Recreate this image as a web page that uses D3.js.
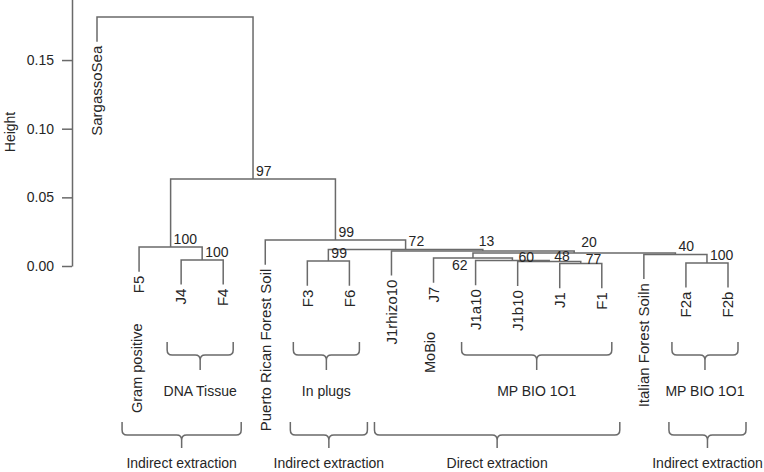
<!DOCTYPE html>
<html>
<head>
<meta charset="utf-8">
<script src="https://cdn.jsdelivr.net/npm/d3@7"></script>
<style>
  body { margin: 0; background: #fff; }
  svg { font-family: "Liberation Sans", Arial, Helvetica, sans-serif; }
</style>
</head>
<body>
<div id="chart"></div>
<script>
// leaves, left to right
const leaves = ["SargassoSea", "F5", "J4", "F4", "Puerto Rican Forest Soil", "F3", "F6",
    "J1rhizo10", "J7", "J1a10", "J1b10", "J1", "F1", "Italian Forest Soiln", "F2a", "F2b"];

// merges: a string is a leaf, a number is an earlier merge row
const merges = [
    ["J4", "F4"],                      // 0
    ["F5", 0],                         // 1
    ["F3", "F6"],                      // 2
    ["J1", "F1"],                      // 3
    ["J1b10", 3],                      // 4
    ["J1a10", 4],                      // 5
    ["J7", 5],                         // 6
    ["F2a", "F2b"],                    // 7
    ["Italian Forest Soiln", 7],       // 8
    [6, 8],                            // 9
    ["J1rhizo10", 9],                  // 10
    [2, 10],                           // 11
    ["Puerto Rican Forest Soil", 11],  // 12
    [1, 12],                           // 13
    ["SargassoSea", 13]                // 14 root
];
const mergeHeights = [0.0044, 0.0138, 0.0036, 0.0018, 0.0033, 0.0040, 0.0058, 0.0022,
    0.0084, 0.0094, 0.0110, 0.0121, 0.0189, 0.0634, 0.1813];
const bootstrap = [100, 100, 99, 77, 48, 60, 62, 100, 40, 20, 13, 72, 99, 97, null];

// group brackets (first leaf, last leaf, text)
const innerGroups = [["J4", "F4", "DNA Tissue"], ["F3", "F6", "In plugs"],
    ["J1a10", "F1", "MP BIO 1O1"], ["F2a", "F2b", "MP BIO 1O1"]];
const outerGroups = [["F5", "F4", "Indirect extraction"], ["F3", "F6", "Indirect extraction"],
    ["J1rhizo10", "F1", "Direct extraction"], ["F2a", "F2b", "Indirect extraction"]];

const yTicks = [0, 0.05, 0.10, 0.15];

const width = 764, height = 472;
const lineColor = "#6a6a6a", textColor = "#262626";

const svg = d3.select("#chart").append("svg")
    .attr("width", width)
    .attr("height", height);

const y = d3.scaleLinear().domain([0, 0.2]).range([266, 266 - 0.2 * 1373]);
const x = d3.scalePoint().domain(leaves).range([97, 728]);

// hang like R plot.hclust
const hang = 0.1 * (d3.max(mergeHeights) - d3.min(mergeHeights));

// node x positions and parent heights of leaves
const nodeX = [];
const leafTop = {};
merges.forEach((m, i) => {
    const cx = m.map(c => typeof c === "number" ? nodeX[c] : x(c));
    nodeX[i] = (cx[0] + cx[1]) / 2;
    m.forEach(c => { if (typeof c !== "number") leafTop[c] = mergeHeights[i]; });
});
const leafEnd = name => y(leafTop[name] - hang);
const childX = c => typeof c === "number" ? nodeX[c] : x(c);
const childY = c => typeof c === "number" ? y(mergeHeights[c]) : leafEnd(c);

// dendrogram branches
svg.append("g").selectAll("path")
    .data(merges)
    .join("path")
    .attr("d", (m, i) => {
        const yy = y(mergeHeights[i]);
        return "M" + childX(m[0]) + "," + childY(m[0]) + "V" + yy +
            "H" + childX(m[1]) + "V" + childY(m[1]);
    })
    .attr("fill", "none")
    .attr("stroke", lineColor)
    .attr("stroke-width", 1.5);

// bootstrap values; labels in the crowded cluster were nudged by hand in the figure
const nudge = { 3: [2, 3], 4: [2, 3], 5: [3, 4], 6: [-24, 15], 9: [4, -3], 10: [-7, -2] };
svg.append("g").selectAll("text")
    .data(merges.map((m, i) => i).filter(i => bootstrap[i] != null))
    .join("text")
    .attr("x", i => nodeX[i] + 3 + (nudge[i] ? nudge[i][0] : 0))
    .attr("y", i => y(mergeHeights[i]) - 3 + (nudge[i] ? nudge[i][1] : 0))
    .attr("font-size", 14)
    .attr("fill", textColor)
    .text(i => bootstrap[i]);

// leaf labels
svg.append("g").selectAll("text")
    .data(leaves)
    .join("text")
    .attr("transform", d => "translate(" + x(d) + "," + (leafEnd(d) + 4) + ") rotate(-90)")
    .attr("text-anchor", "end")
    .attr("dy", "0.35em")
    .attr("font-size", 15)
    .attr("fill", textColor)
    .text(d => d);

// extra rotated notes
const notes = [["F5", -2, 413, "Gram positive"], ["J7", -4, 373, "MoBio"]];
svg.append("g").selectAll("text")
    .data(notes)
    .join("text")
    .attr("transform", d => "translate(" + (x(d[0]) + d[1]) + "," + d[2] + ") rotate(-90)")
    .attr("text-anchor", "start")
    .attr("dy", "0.35em")
    .attr("font-size", 14.5)
    .attr("fill", textColor)
    .text(d => d[3]);

// curly brackets
function bracket(x1, x2, yt, ym, yb) {
    const cx = (x1 + x2) / 2, r = 5;
    return "M" + x1 + "," + yt + "V" + (ym - r) + "Q" + x1 + "," + ym + " " + (x1 + r) + "," + ym +
        "H" + (cx - r) + "Q" + cx + "," + ym + " " + cx + "," + (ym + r) + "V" + yb +
        "M" + x2 + "," + yt + "V" + (ym - r) + "Q" + x2 + "," + ym + " " + (x2 - r) + "," + ym +
        "H" + (cx + r) + "Q" + cx + "," + ym + " " + cx + "," + (ym + r);
}

function drawGroups(groups, padL, padR, yt, ym, yb, yText) {
    const g = svg.append("g");
    g.selectAll("path")
        .data(groups)
        .join("path")
        .attr("d", d => bracket(x(d[0]) - padL, x(d[1]) + padR, yt, ym, yb))
        .attr("fill", "none")
        .attr("stroke", lineColor)
        .attr("stroke-width", 1.5);
    g.selectAll("text")
        .data(groups)
        .join("text")
        .attr("x", d => (x(d[0]) - padL + x(d[1]) + padR) / 2)
        .attr("y", yText)
        .attr("dy", "0.35em")
        .attr("text-anchor", "middle")
        .attr("font-size", 14)
        .attr("fill", textColor)
        .text(d => d[2]);
}
drawGroups(innerGroups, 14, 10, 342, 355, 370, 391);
drawGroups(outerGroups, 17, 18, 422, 435, 448, 463);

// y axis
const yAxis = svg.append("g")
    .attr("transform", "translate(72,0)")
    .call(d3.axisLeft(y).tickValues(yTicks).tickFormat(d3.format(".2f"))
        .tickSize(10).tickPadding(8).tickSizeOuter(0));
yAxis.selectAll("path, line").attr("stroke", lineColor).attr("stroke-width", 1.5);
yAxis.selectAll("text").attr("font-size", 14).attr("fill", textColor)
    .attr("font-family", "Liberation Sans, Arial, sans-serif");

svg.append("text")
    .attr("transform", "translate(15,132) rotate(-90)")
    .attr("text-anchor", "middle")
    .attr("font-size", 14)
    .attr("fill", textColor)
    .text("Height");
</script>
</body>
</html>
